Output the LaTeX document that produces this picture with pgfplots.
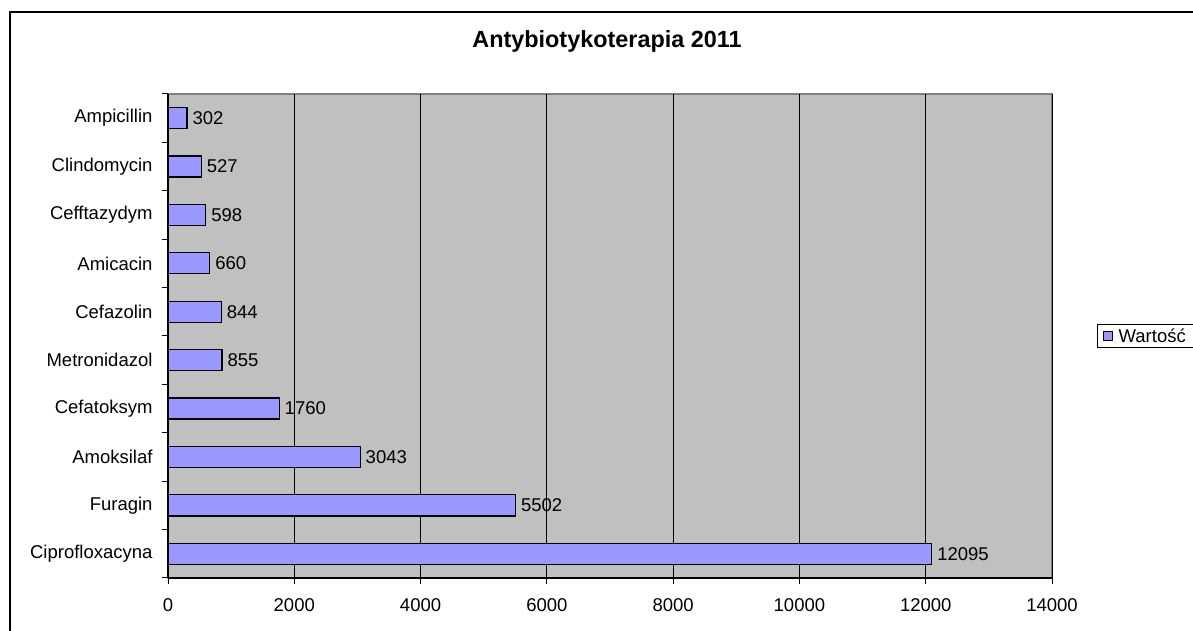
\documentclass[border=0pt]{standalone}
\usepackage{pgfplots}
\pgfplotsset{compat=1.18}
\usepackage{fontspec}
\setmainfont{Liberation Sans}
\definecolor{barfill}{HTML}{9999FF}
\definecolor{plotbg}{HTML}{C0C0C0}
\definecolor{plotedge}{HTML}{808080}
\newcommand\lbl{\fontsize{18.5bp}{22bp}\selectfont}
\begin{document}
\begin{tikzpicture}
\path[use as bounding box] (0,0) rectangle (1193bp,631bp);
\fill[white] (0,0) rectangle (1193bp,631bp);
\draw[line width=1.2bp] (10bp,-20bp) -- (10bp,619bp) -- (1220bp,619bp);
\begin{axis}[
    at={(168bp,53bp)}, anchor=south west,
    scale only axis, width=884bp, height=484bp,
    xbar, bar width=21bp,
    xmin=0, xmax=14000,
    ymin=-0.5, ymax=9.5,
    xtick={0,2000,...,14000},
    scaled x ticks=false,
    ytick={-0.5,0.5,...,9.5}, yticklabels={},
    extra y ticks={0,1,2,3,4,5,6,7,8,9},
    extra y tick labels={Ciprofloxacyna,Furagin,Amoksilaf,Cefatoksym,Metronidazol,Cefazolin,Amicacin,Cefftazydym,Clindomycin,Ampicillin},
    extra y tick style={major tick length=0pt, yticklabel style={xshift=-12bp}},
    tick align=outside, major tick length=6bp,
    tick style={black, line width=1bp},
    axis x line*=bottom, axis y line*=left,
    axis line style={black, line width=1.2bp},
    axis background/.style={fill=plotbg, draw=plotedge, line width=1.2bp},
    xmajorgrids, major grid style={black, line width=1bp},
    tick label style={font=\lbl},
    xticklabel style={yshift=-11bp},
    /pgf/number format/1000 sep={},
    /pgf/number format/assume math mode=true,
    nodes near coords,
    nodes near coords style={font=\lbl, anchor=west, inner sep=0pt, xshift=5bp, black},
    title={Antybiotykoterapia 2011},
    title style={font=\fontsize{23.4bp}{28bp}\selectfont\bfseries, at={(0.4966,1.0847)}, anchor=base},
    legend style={at={(1.051,0.5)}, anchor=west, draw=black, line width=1bp, fill=white,
        font=\lbl, inner xsep=5bp, inner ysep=2bp},
    legend image code/.code={\draw[#1, line width=1bp] (3bp,-4.5bp) rectangle (12bp,4.5bp); \path (16bp,0bp);},
]
\addplot[fill=barfill, draw=black, line width=1.2bp] coordinates {
    (12095,0) (5502,1) (3043,2) (1760,3) (855,4)
    (844,5) (660,6) (598,7) (527,8) (302,9)
};
\addlegendentry{Wartość\rule{30bp}{0pt}}
\end{axis}
\end{tikzpicture}
\end{document}
